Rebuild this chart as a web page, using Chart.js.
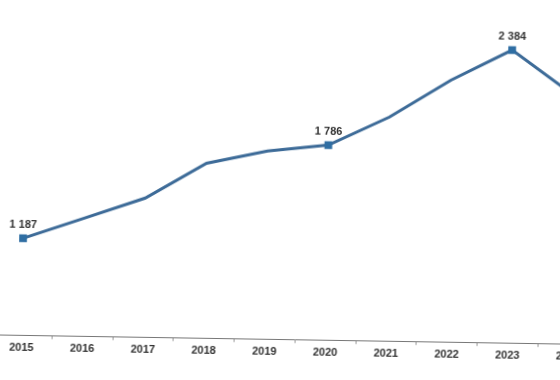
<!DOCTYPE html>
<html>
<head>
<meta charset="utf-8">
<script src="https://cdn.jsdelivr.net/npm/chart.js@4.4.0/dist/chart.umd.min.js"></script>
<style>
  html, body { margin: 0; padding: 0; background: #fff; overflow: hidden; }
  #frame { position: absolute; left: 0; top: 0; width: 560px; height: 380px;
           transform: rotate(0.92deg); transform-origin: 280px 190px; }
  #wrap { position: absolute; left: -12px; top: 0; width: 640px; height: 380px; }
</style>
</head>
<body>
<div id="frame"><div id="wrap"><canvas id="c" width="640" height="380"></canvas></div></div>
<script>
const categories = ['2015','2016','2017','2018','2019','2020','2021','2022','2023','2024'];
const values = [1187, 1315, 1444, 1663, 1743, 1786, 1963, 2194, 2384, 2121];
const labelled = [0, 5, 8];

function fmt(v) { return String(v).replace(/\B(?=(\d{3})+(?!\d))/g, ' '); }

const valueLabels = {
  id: 'valueLabels',
  afterDatasetsDraw(chart) {
    const ctx = chart.ctx;
    const meta = chart.getDatasetMeta(0);
    ctx.save();
    ctx.font = 'bold 11px "Liberation Sans", Arial, sans-serif';
    ctx.fillStyle = '#333';
    ctx.textAlign = 'center';
    ctx.textBaseline = 'bottom';
    labelled.forEach(i => {
      const p = meta.data[i];
      ctx.fillText(fmt(values[i]), p.x, p.y - 8);
    });
    ctx.restore();
  }
};

new Chart(document.getElementById('c'), {
  type: 'line',
  data: {
    labels: categories,
    datasets: [{
      data: values,
      borderColor: '#3d6b98',
      borderWidth: 3,
      tension: 0,
      pointStyle: 'rect',
      pointRadius: values.map((v, i) => labelled.includes(i) ? 5.5 : 0),
      pointHoverRadius: 0,
      pointBackgroundColor: '#2f6ea3',
      pointBorderColor: '#2f6ea3',
      pointBorderWidth: 0,
      fill: false
    }]
  },
  options: {
    responsive: false,
    animation: false,
    layout: { padding: { left: 0, right: 27, top: 11, bottom: 18 } },
    plugins: { legend: { display: false }, tooltip: { enabled: false } },
    scales: {
      x: {
        offset: true,
        grid: { display: true, offset: true, drawOnChartArea: false, tickLength: 3, color: '#999' },
        border: { display: true, color: '#777', width: 1 },
        ticks: { color: '#333', font: { family: '"Liberation Sans", Arial, sans-serif', size: 11, weight: 'bold' }, padding: 3, maxRotation: 0, autoSkip: false }
      },
      y: {
        display: false,
        min: 592,
        max: 2600
      }
    }
  },
  plugins: [valueLabels]
});
</script>
</body>
</html>
